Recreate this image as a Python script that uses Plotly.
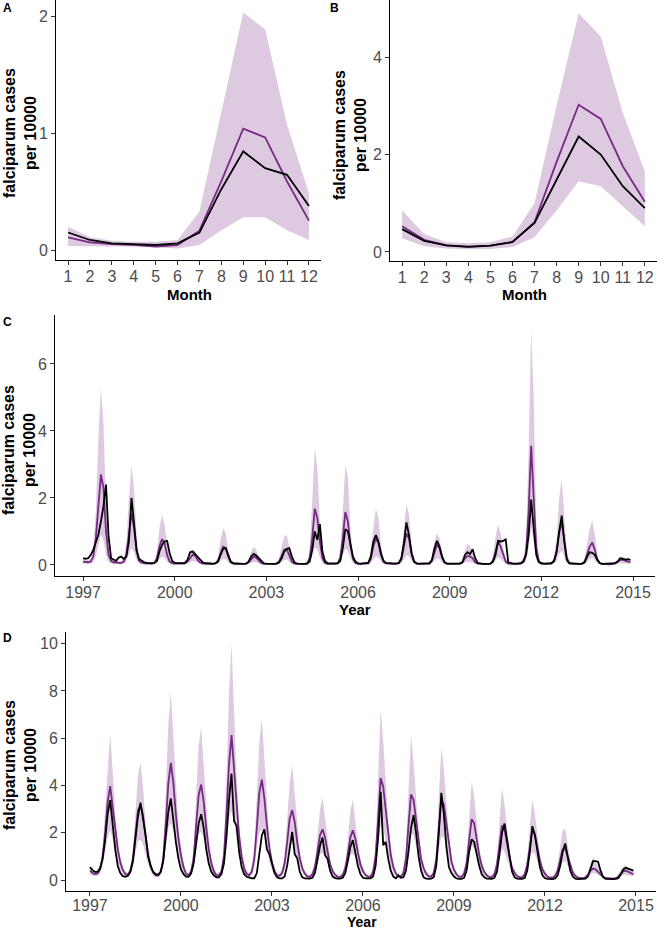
import plotly.graph_objects as go

# ---- panel A / B: mean seasonal profile by month ----
months = list(range(1, 13))

a_obs = [0.15, 0.086, 0.057, 0.049, 0.043, 0.057, 0.149, 0.52, 0.843, 0.70, 0.643, 0.377]
a_pred = [0.109, 0.066, 0.05, 0.045, 0.03, 0.043, 0.166, 0.59, 1.037, 0.963, 0.586, 0.251]
a_lo = [0.034, 0.03, 0.03, 0.028, 0.025, 0.014, 0.043, 0.17, 0.28, 0.28, 0.17, 0.086]
a_hi = [0.2, 0.11, 0.08, 0.07, 0.07, 0.086, 0.33, 1.17, 2.03, 1.886, 1.07, 0.486]

b_obs = [0.47, 0.23, 0.137, 0.11, 0.13, 0.205, 0.595, 1.48, 2.37, 2.0, 1.35, 0.9]
b_pred = [0.53, 0.25, 0.137, 0.10, 0.13, 0.20, 0.61, 1.85, 3.02, 2.73, 1.76, 1.03]
b_lo = [0.28, 0.12, 0.07, 0.055, 0.06, 0.1, 0.3, 0.85, 1.45, 1.35, 0.94, 0.53]
b_hi = [0.85, 0.37, 0.2, 0.18, 0.2, 0.32, 1.0, 3.0, 4.9, 4.42, 2.85, 1.65]

# ---- panel C / D: monthly series Jan 1997 - Dec 2014 (one row per year) ----
years = list(range(1997, 2015))

c_obs = [
    0.20, 0.18, 0.20, 0.30, 0.45, 0.70, 0.90, 1.30, 1.75, 2.40, 0.85, 0.20,
    0.15, 0.12, 0.22, 0.25, 0.18, 0.25, 0.70, 2.00, 1.25, 0.45, 0.18, 0.12,
    0.08, 0.06, 0.05, 0.05, 0.06, 0.12, 0.40, 0.60, 0.70, 0.72, 0.35, 0.12,
    0.06, 0.05, 0.05, 0.05, 0.06, 0.15, 0.38, 0.40, 0.32, 0.25, 0.15, 0.08,
    0.05, 0.04, 0.04, 0.04, 0.05, 0.10, 0.30, 0.48, 0.50, 0.30, 0.10, 0.05,
    0.04, 0.03, 0.03, 0.03, 0.04, 0.10, 0.25, 0.33, 0.28, 0.20, 0.10, 0.05,
    0.04, 0.03, 0.03, 0.03, 0.04, 0.08, 0.20, 0.40, 0.48, 0.50, 0.25, 0.08,
    0.04, 0.03, 0.03, 0.03, 0.04, 0.10, 0.45, 1.00, 0.75, 1.22, 0.40, 0.12,
    0.05, 0.04, 0.04, 0.04, 0.05, 0.12, 0.50, 1.07, 1.00, 0.60, 0.25, 0.10,
    0.05, 0.04, 0.04, 0.04, 0.06, 0.25, 0.70, 0.89, 0.70, 0.35, 0.12, 0.06,
    0.05, 0.04, 0.04, 0.04, 0.06, 0.20, 0.65, 1.27, 0.90, 0.35, 0.10, 0.05,
    0.04, 0.04, 0.04, 0.04, 0.05, 0.15, 0.50, 0.72, 0.55, 0.25, 0.08, 0.04,
    0.04, 0.03, 0.03, 0.03, 0.04, 0.08, 0.30, 0.38, 0.32, 0.47, 0.20, 0.06,
    0.04, 0.03, 0.03, 0.03, 0.04, 0.10, 0.30, 0.72, 0.70, 0.72, 0.76, 0.08,
    0.05, 0.04, 0.04, 0.04, 0.05, 0.10, 0.30, 0.90, 1.95, 1.10, 0.30, 0.08,
    0.05, 0.04, 0.04, 0.04, 0.05, 0.12, 0.40, 1.00, 1.47, 0.70, 0.15, 0.05,
    0.04, 0.03, 0.03, 0.03, 0.04, 0.08, 0.25, 0.38, 0.36, 0.30, 0.15, 0.05,
    0.03, 0.03, 0.03, 0.03, 0.03, 0.05, 0.10, 0.20, 0.18, 0.16, 0.17, 0.15,
]
c_pred = [
    0.10, 0.08, 0.08, 0.10, 0.25, 0.80, 1.90, 2.70, 2.30, 1.00, 0.30, 0.12,
    0.08, 0.06, 0.06, 0.06, 0.10, 0.30, 1.00, 1.53, 1.10, 0.40, 0.12, 0.07,
    0.05, 0.04, 0.04, 0.04, 0.06, 0.20, 0.55, 0.77, 0.65, 0.30, 0.10, 0.05,
    0.04, 0.04, 0.04, 0.04, 0.05, 0.10, 0.22, 0.30, 0.28, 0.15, 0.07, 0.04,
    0.04, 0.03, 0.03, 0.03, 0.05, 0.12, 0.35, 0.55, 0.50, 0.25, 0.08, 0.04,
    0.03, 0.03, 0.03, 0.03, 0.04, 0.08, 0.18, 0.25, 0.22, 0.12, 0.05, 0.03,
    0.03, 0.03, 0.03, 0.03, 0.04, 0.10, 0.28, 0.45, 0.47, 0.30, 0.10, 0.04,
    0.03, 0.03, 0.03, 0.03, 0.05, 0.20, 0.80, 1.68, 1.40, 0.70, 0.20, 0.06,
    0.03, 0.03, 0.03, 0.03, 0.05, 0.20, 0.80, 1.58, 1.30, 0.60, 0.18, 0.06,
    0.03, 0.03, 0.03, 0.03, 0.05, 0.18, 0.55, 0.78, 0.65, 0.30, 0.10, 0.05,
    0.03, 0.03, 0.03, 0.03, 0.05, 0.15, 0.55, 0.94, 0.80, 0.35, 0.10, 0.04,
    0.03, 0.03, 0.03, 0.03, 0.04, 0.12, 0.40, 0.60, 0.50, 0.22, 0.07, 0.03,
    0.03, 0.03, 0.03, 0.03, 0.04, 0.08, 0.20, 0.27, 0.25, 0.20, 0.08, 0.04,
    0.03, 0.03, 0.03, 0.03, 0.04, 0.12, 0.45, 0.69, 0.55, 0.30, 0.10, 0.04,
    0.03, 0.03, 0.03, 0.03, 0.05, 0.12, 0.35, 1.60, 3.56, 2.00, 0.50, 0.12,
    0.03, 0.03, 0.03, 0.03, 0.05, 0.12, 0.40, 0.95, 1.29, 0.75, 0.20, 0.05,
    0.03, 0.03, 0.03, 0.03, 0.04, 0.10, 0.30, 0.55, 0.67, 0.45, 0.15, 0.05,
    0.03, 0.02, 0.02, 0.02, 0.03, 0.05, 0.10, 0.15, 0.15, 0.12, 0.10, 0.09,
]
c_lo = [
    0.04, 0.03, 0.03, 0.04, 0.08, 0.25, 0.60, 0.90, 0.75, 0.30, 0.08, 0.04,
    0.03, 0.02, 0.02, 0.02, 0.04, 0.10, 0.32, 0.50, 0.38, 0.14, 0.05, 0.03,
    0.02, 0.02, 0.02, 0.02, 0.02, 0.07, 0.18, 0.25, 0.21, 0.10, 0.04, 0.02,
    0.02, 0.01, 0.01, 0.01, 0.02, 0.04, 0.08, 0.11, 0.10, 0.06, 0.03, 0.02,
    0.01, 0.01, 0.01, 0.01, 0.02, 0.04, 0.12, 0.18, 0.17, 0.08, 0.03, 0.01,
    0.01, 0.01, 0.01, 0.01, 0.01, 0.03, 0.06, 0.09, 0.08, 0.04, 0.02, 0.01,
    0.01, 0.01, 0.01, 0.01, 0.01, 0.03, 0.09, 0.15, 0.16, 0.10, 0.03, 0.01,
    0.01, 0.01, 0.01, 0.01, 0.02, 0.07, 0.26, 0.52, 0.45, 0.22, 0.07, 0.02,
    0.01, 0.01, 0.01, 0.01, 0.02, 0.07, 0.26, 0.50, 0.42, 0.20, 0.06, 0.02,
    0.01, 0.01, 0.01, 0.01, 0.02, 0.06, 0.18, 0.26, 0.22, 0.10, 0.03, 0.02,
    0.01, 0.01, 0.01, 0.01, 0.02, 0.05, 0.18, 0.30, 0.26, 0.12, 0.03, 0.01,
    0.01, 0.01, 0.01, 0.01, 0.01, 0.04, 0.13, 0.20, 0.17, 0.07, 0.02, 0.01,
    0.01, 0.01, 0.01, 0.01, 0.01, 0.03, 0.07, 0.09, 0.08, 0.07, 0.03, 0.01,
    0.01, 0.01, 0.01, 0.01, 0.01, 0.04, 0.15, 0.23, 0.18, 0.10, 0.03, 0.01,
    0.01, 0.01, 0.01, 0.01, 0.02, 0.04, 0.12, 0.50, 1.10, 0.65, 0.16, 0.04,
    0.01, 0.01, 0.01, 0.01, 0.02, 0.04, 0.13, 0.32, 0.42, 0.25, 0.07, 0.02,
    0.01, 0.01, 0.01, 0.01, 0.01, 0.03, 0.10, 0.18, 0.22, 0.15, 0.05, 0.02,
    0.01, 0.01, 0.01, 0.01, 0.01, 0.02, 0.03, 0.05, 0.05, 0.04, 0.03, 0.03,
]
c_hi = [
    0.20, 0.15, 0.15, 0.20, 0.50, 1.60, 3.80, 5.30, 4.20, 1.80, 0.50, 0.20,
    0.15, 0.12, 0.12, 0.12, 0.20, 0.70, 2.00, 2.97, 2.30, 0.90, 0.25, 0.12,
    0.10, 0.08, 0.08, 0.08, 0.12, 0.40, 1.10, 1.49, 1.20, 0.60, 0.20, 0.10,
    0.08, 0.07, 0.07, 0.07, 0.09, 0.20, 0.40, 0.45, 0.42, 0.25, 0.12, 0.08,
    0.07, 0.06, 0.06, 0.06, 0.09, 0.25, 0.75, 1.09, 0.95, 0.45, 0.15, 0.07,
    0.06, 0.05, 0.05, 0.05, 0.07, 0.15, 0.38, 0.54, 0.45, 0.22, 0.09, 0.06,
    0.06, 0.05, 0.05, 0.05, 0.08, 0.20, 0.55, 0.85, 0.89, 0.55, 0.18, 0.07,
    0.06, 0.05, 0.05, 0.05, 0.10, 0.45, 1.90, 3.50, 2.90, 1.30, 0.40, 0.10,
    0.06, 0.05, 0.05, 0.05, 0.10, 0.40, 1.60, 2.97, 2.60, 1.10, 0.35, 0.10,
    0.06, 0.05, 0.05, 0.05, 0.10, 0.35, 1.10, 1.68, 1.40, 0.60, 0.20, 0.08,
    0.06, 0.05, 0.05, 0.05, 0.09, 0.30, 1.10, 1.80, 1.50, 0.65, 0.20, 0.08,
    0.06, 0.05, 0.05, 0.05, 0.08, 0.22, 0.70, 0.94, 0.80, 0.38, 0.13, 0.06,
    0.05, 0.05, 0.05, 0.05, 0.07, 0.15, 0.45, 0.64, 0.55, 0.35, 0.12, 0.06,
    0.05, 0.05, 0.05, 0.05, 0.08, 0.25, 0.85, 1.19, 0.95, 0.50, 0.18, 0.07,
    0.06, 0.05, 0.05, 0.05, 0.10, 0.25, 0.80, 3.40, 7.03, 5.00, 1.20, 0.25,
    0.06, 0.05, 0.05, 0.05, 0.09, 0.25, 0.80, 2.00, 2.57, 1.60, 0.40, 0.10,
    0.05, 0.05, 0.05, 0.05, 0.07, 0.18, 0.60, 1.10, 1.32, 0.90, 0.30, 0.08,
    0.05, 0.04, 0.04, 0.04, 0.05, 0.08, 0.18, 0.25, 0.25, 0.20, 0.16, 0.15,
]

d_obs = [
    0.55, 0.42, 0.35, 0.35, 0.50, 0.90, 1.70, 2.80, 3.38, 2.30, 1.30, 0.60,
    0.30, 0.17, 0.14, 0.18, 0.35, 0.80, 1.70, 2.70, 3.28, 2.60, 1.90, 1.00,
    0.60, 0.35, 0.25, 0.22, 0.35, 0.80, 1.80, 2.90, 3.45, 2.50, 1.60, 0.90,
    0.45, 0.25, 0.15, 0.14, 0.28, 0.70, 1.50, 2.40, 2.79, 2.20, 1.30, 0.70,
    0.35, 0.20, 0.12, 0.12, 0.25, 0.70, 1.80, 3.40, 4.50, 2.50, 2.30, 1.20,
    0.55, 0.25, 0.14, 0.10, 0.08, 0.08, 0.30, 1.10, 1.90, 2.15, 1.30, 1.10,
    0.70, 0.30, 0.12, 0.07, 0.07, 0.15, 0.60, 1.40, 2.04, 1.10, 0.92, 0.35,
    0.12, 0.07, 0.06, 0.06, 0.10, 0.30, 0.85, 1.45, 1.80, 1.05, 0.90, 0.40,
    0.15, 0.08, 0.06, 0.06, 0.10, 0.30, 0.80, 1.40, 1.69, 1.10, 0.60, 0.25,
    0.10, 0.07, 0.06, 0.07, 0.15, 0.60, 1.80, 3.73, 1.48, 1.62, 0.90, 0.40,
    0.15, 0.08, 0.20, 0.10, 0.12, 0.40, 1.20, 2.20, 2.75, 2.00, 1.00, 0.40,
    0.12, 0.06, 0.05, 0.06, 0.12, 0.60, 2.00, 3.69, 2.80, 1.40, 0.55, 0.30,
    0.15, 0.07, 0.05, 0.05, 0.10, 0.40, 1.20, 1.73, 1.60, 1.10, 0.60, 0.25,
    0.12, 0.06, 0.05, 0.05, 0.10, 0.35, 1.10, 2.00, 2.39, 1.70, 0.90, 0.35,
    0.12, 0.06, 0.05, 0.05, 0.10, 0.40, 1.20, 2.28, 1.90, 1.20, 0.55, 0.20,
    0.08, 0.05, 0.04, 0.04, 0.07, 0.20, 0.60, 1.20, 1.55, 0.90, 0.40, 0.15,
    0.06, 0.04, 0.04, 0.04, 0.06, 0.15, 0.45, 0.80, 0.80, 0.78, 0.40, 0.12,
    0.05, 0.04, 0.04, 0.04, 0.05, 0.08, 0.25, 0.45, 0.52, 0.48, 0.42, 0.40,
]
d_pred = [
    0.40, 0.30, 0.26, 0.28, 0.45, 0.95, 2.00, 3.30, 3.97, 3.10, 2.05, 1.30,
    0.75, 0.42, 0.26, 0.22, 0.40, 0.90, 1.95, 2.95, 3.17, 2.75, 1.85, 1.10,
    0.60, 0.32, 0.20, 0.20, 0.35, 0.90, 2.40, 4.10, 4.96, 4.10, 2.75, 1.75,
    1.05, 0.55, 0.26, 0.20, 0.35, 0.90, 2.30, 3.60, 4.04, 3.30, 2.20, 1.30,
    0.72, 0.38, 0.20, 0.20, 0.35, 1.00, 2.80, 4.90, 6.13, 4.80, 3.20, 1.85,
    1.00, 0.50, 0.26, 0.20, 0.35, 0.90, 2.20, 3.70, 4.25, 3.45, 2.30, 1.35,
    0.75, 0.38, 0.20, 0.18, 0.30, 0.70, 1.60, 2.60, 2.96, 2.45, 1.60, 0.92,
    0.50, 0.27, 0.16, 0.14, 0.25, 0.55, 1.20, 1.90, 2.15, 1.80, 1.20, 0.66,
    0.38, 0.22, 0.14, 0.13, 0.22, 0.50, 1.10, 1.80, 2.11, 1.75, 1.15, 0.66,
    0.38, 0.22, 0.14, 0.15, 0.35, 1.00, 2.60, 4.32, 3.95, 2.95, 1.85, 1.05,
    0.55, 0.28, 0.16, 0.15, 0.30, 0.90, 2.30, 3.62, 3.40, 2.55, 1.55, 0.88,
    0.50, 0.27, 0.16, 0.15, 0.30, 0.85, 2.20, 3.38, 3.20, 2.35, 1.45, 0.78,
    0.44, 0.24, 0.15, 0.14, 0.28, 0.70, 1.70, 2.58, 2.40, 1.70, 1.05, 0.60,
    0.34, 0.20, 0.13, 0.13, 0.25, 0.65, 1.55, 2.30, 2.15, 1.50, 0.95, 0.50,
    0.30, 0.17, 0.12, 0.12, 0.25, 0.65, 1.50, 2.11, 1.95, 1.35, 0.82, 0.45,
    0.26, 0.15, 0.10, 0.10, 0.18, 0.40, 0.90, 1.30, 1.34, 1.00, 0.60, 0.33,
    0.18, 0.11, 0.08, 0.08, 0.12, 0.22, 0.40, 0.49, 0.46, 0.36, 0.24, 0.14,
    0.09, 0.07, 0.06, 0.06, 0.08, 0.14, 0.28, 0.37, 0.40, 0.34, 0.28, 0.25,
]
d_lo = [
    0.26, 0.19, 0.16, 0.18, 0.29, 0.60, 1.20, 1.80, 2.10, 1.75, 1.20, 0.75,
    0.45, 0.26, 0.16, 0.14, 0.26, 0.57, 1.15, 1.65, 1.70, 1.50, 1.05, 0.64,
    0.35, 0.19, 0.13, 0.13, 0.22, 0.55, 1.40, 2.20, 2.40, 2.10, 1.50, 1.00,
    0.60, 0.32, 0.16, 0.13, 0.22, 0.55, 1.35, 1.95, 2.05, 1.75, 1.20, 0.75,
    0.42, 0.22, 0.13, 0.13, 0.22, 0.62, 1.60, 2.60, 2.90, 2.50, 1.75, 1.05,
    0.57, 0.29, 0.16, 0.13, 0.22, 0.56, 1.30, 2.00, 2.15, 1.85, 1.25, 0.75,
    0.42, 0.22, 0.13, 0.12, 0.19, 0.44, 0.95, 1.45, 1.55, 1.35, 0.90, 0.54,
    0.29, 0.16, 0.10, 0.09, 0.16, 0.35, 0.72, 1.10, 1.15, 1.00, 0.68, 0.38,
    0.22, 0.13, 0.09, 0.08, 0.14, 0.32, 0.66, 1.05, 1.12, 0.98, 0.64, 0.38,
    0.22, 0.13, 0.09, 0.10, 0.22, 0.62, 1.50, 2.30, 2.20, 1.65, 1.05, 0.60,
    0.32, 0.16, 0.10, 0.10, 0.19, 0.56, 1.35, 1.95, 1.90, 1.42, 0.87, 0.51,
    0.29, 0.16, 0.10, 0.10, 0.19, 0.53, 1.30, 1.85, 1.80, 1.32, 0.81, 0.45,
    0.26, 0.14, 0.09, 0.09, 0.18, 0.44, 1.00, 1.45, 1.35, 0.96, 0.60, 0.35,
    0.19, 0.12, 0.08, 0.08, 0.16, 0.41, 0.92, 1.30, 1.20, 0.85, 0.54, 0.29,
    0.18, 0.10, 0.08, 0.08, 0.16, 0.41, 0.90, 1.20, 1.10, 0.76, 0.47, 0.26,
    0.16, 0.09, 0.06, 0.06, 0.12, 0.26, 0.55, 0.76, 0.80, 0.58, 0.35, 0.19,
    0.10, 0.06, 0.05, 0.05, 0.08, 0.14, 0.25, 0.30, 0.28, 0.22, 0.14, 0.08,
    0.06, 0.04, 0.04, 0.04, 0.05, 0.09, 0.17, 0.22, 0.24, 0.21, 0.17, 0.15,
]
d_hi = [
    0.55, 0.42, 0.36, 0.40, 0.65, 1.40, 3.00, 4.80, 6.20, 4.60, 2.80, 1.70,
    0.95, 0.55, 0.36, 0.32, 0.58, 1.30, 2.90, 4.40, 4.96, 3.90, 2.40, 1.40,
    0.80, 0.45, 0.30, 0.30, 0.52, 1.35, 3.70, 6.60, 7.96, 6.00, 3.70, 2.30,
    1.35, 0.72, 0.37, 0.30, 0.52, 1.35, 3.50, 5.70, 6.45, 4.80, 2.90, 1.70,
    0.95, 0.52, 0.30, 0.30, 0.52, 1.50, 4.30, 7.90, 10.00, 7.20, 4.30, 2.40,
    1.30, 0.65, 0.37, 0.30, 0.52, 1.35, 3.40, 5.80, 6.83, 5.10, 3.00, 1.70,
    0.95, 0.52, 0.30, 0.27, 0.45, 1.05, 2.50, 4.10, 4.86, 3.60, 2.20, 1.25,
    0.66, 0.37, 0.22, 0.21, 0.37, 0.82, 1.85, 3.00, 3.49, 2.60, 1.60, 0.88,
    0.52, 0.30, 0.21, 0.20, 0.33, 0.75, 1.70, 2.90, 3.41, 2.50, 1.50, 0.88,
    0.52, 0.30, 0.21, 0.22, 0.52, 1.50, 4.10, 7.18, 5.90, 4.10, 2.40, 1.40,
    0.75, 0.37, 0.22, 0.22, 0.45, 1.35, 3.60, 6.13, 5.00, 3.50, 2.00, 1.15,
    0.66, 0.37, 0.22, 0.22, 0.45, 1.25, 3.40, 5.63, 4.70, 3.20, 1.85, 1.00,
    0.60, 0.33, 0.21, 0.21, 0.42, 1.05, 2.60, 4.15, 3.50, 2.35, 1.38, 0.80,
    0.45, 0.27, 0.20, 0.20, 0.37, 0.98, 2.40, 3.92, 3.20, 2.05, 1.22, 0.66,
    0.42, 0.24, 0.18, 0.18, 0.37, 0.98, 2.30, 3.42, 2.80, 1.85, 1.10, 0.60,
    0.37, 0.21, 0.15, 0.15, 0.27, 0.60, 1.40, 2.10, 2.18, 1.45, 0.82, 0.45,
    0.24, 0.15, 0.12, 0.12, 0.18, 0.33, 0.70, 0.96, 0.80, 0.55, 0.33, 0.20,
    0.14, 0.10, 0.09, 0.09, 0.12, 0.21, 0.45, 0.60, 0.63, 0.52, 0.42, 0.38,
]

year_ticks = [1997, 2000, 2003, 2006, 2009, 2012, 2015]

# decimal year for each month
t = [y + m / 12 for y in years for m in range(12)]

W, H = 658, 931
FONT = "Liberation Sans, Arial, Helvetica, sans-serif"
PURPLE = "#762a83"
BAND = "rgba(118,42,131,0.25)"


def px(x):
    return x / W


def py(y):
    return 1 - y / H


fig = go.Figure()


def add_panel(x, obs, pred, lo, hi, n):
    xa = "x" if n == 1 else "x%d" % n
    ya = "y" if n == 1 else "y%d" % n
    fig.add_trace(go.Scatter(x=x, y=lo, mode="lines", line=dict(width=0),
                             xaxis=xa, yaxis=ya, hoverinfo="skip"))
    fig.add_trace(go.Scatter(x=x, y=hi, mode="lines", line=dict(width=0),
                             fill="tonexty", fillcolor=BAND,
                             xaxis=xa, yaxis=ya, hoverinfo="skip"))
    fig.add_trace(go.Scatter(x=x, y=pred, mode="lines",
                             line=dict(color=PURPLE, width=1.8),
                             xaxis=xa, yaxis=ya))
    fig.add_trace(go.Scatter(x=x, y=obs, mode="lines",
                             line=dict(color="black", width=1.8),
                             xaxis=xa, yaxis=ya))


add_panel(months, a_obs, a_pred, a_lo, a_hi, 1)
add_panel(months, b_obs, b_pred, b_lo, b_hi, 2)
add_panel(t, c_obs, c_pred, c_lo, c_hi, 3)
add_panel(t, d_obs, d_pred, d_lo, d_hi, 4)

axis_style = dict(
    showline=True, linecolor="black", linewidth=1,
    ticks="outside", ticklen=4, tickwidth=1, tickcolor="#333333",
    showgrid=False, zeroline=False, automargin=False,
    tickfont=dict(family=FONT, size=16, color="#4d4d4d"),
)
x_style = dict(axis_style, ticklabelstandoff=-2)

fig.update_layout(
    width=W, height=H,
    margin=dict(l=0, r=0, t=0, b=0),
    paper_bgcolor="white", plot_bgcolor="white",
    showlegend=False,
    font=dict(family=FONT),
    # A
    xaxis=dict(x_style, domain=[px(56), px(321)], range=[0.45, 12.55],
               tickvals=months, anchor="y"),
    yaxis=dict(axis_style, domain=[py(260), py(0)], range=[-0.085, 2.137],
               tickvals=[0, 1, 2], anchor="x"),
    # B
    xaxis2=dict(x_style, domain=[px(390), px(657)], range=[0.45, 12.55],
                tickvals=months, anchor="y2"),
    yaxis2=dict(axis_style, domain=[py(261), py(0)], range=[-0.185, 5.17],
                tickvals=[0, 2, 4], anchor="x2"),
    # C
    xaxis3=dict(x_style, domain=[px(55), px(655)], range=[1996.08, 2015.72],
                tickvals=year_ticks, anchor="y3"),
    yaxis3=dict(axis_style, domain=[py(576), py(315)], range=[-0.33, 7.46],
                tickvals=[0, 2, 4, 6], anchor="x3"),
    # D
    xaxis4=dict(axis_style, ticklabelstandoff=-4,
                domain=[px(66), px(656)], range=[1996.21, 2015.66],
                tickvals=year_ticks, anchor="y4"),
    yaxis4=dict(axis_style, domain=[py(891), py(632)], range=[-0.46, 10.49],
                tickvals=[0, 2, 4, 6, 8, 10], anchor="x4"),
)

ytitle = "falciparum cases<br>per 10000"
title_font = dict(family=FONT, size=16, color="black", weight="bold")
xt_font = dict(family=FONT, size=15, color="black", weight="bold")

# rotated y titles, x titles, panel letters
for x, y in [(20, 133), (350, 135), (19, 450), (20, 765)]:
    fig.add_annotation(x=px(x), y=py(y), xref="paper", yref="paper",
                       xanchor="center", yanchor="middle",
                       text=ytitle, textangle=-90, showarrow=False,
                       font=title_font, align="center")

for txt, x, y, sz in [("Month", 189, 295, 15), ("Month", 524, 295, 15),
                      ("Year", 355, 609, 15), ("Year", 362, 922, 14)]:
    fig.add_annotation(x=px(x), y=py(y), xref="paper", yref="paper",
                       xanchor="center", yanchor="middle",
                       text=txt, showarrow=False, font=dict(xt_font, size=sz))

for txt, x, y in [("A", 7, 8), ("B", 334, 8), ("C", 7, 322), ("D", 7, 638)]:
    fig.add_annotation(x=px(x), y=py(y), xref="paper", yref="paper",
                       xanchor="center", yanchor="middle",
                       text=txt, showarrow=False,
                       font=dict(family=FONT, size=12, color="black", weight="bold"))

# drop the default body margin so the figure sits at the page corner
fig.write_html("out.html", config={"displayModeBar": False},
               post_script="document.body.style.margin='0';")
